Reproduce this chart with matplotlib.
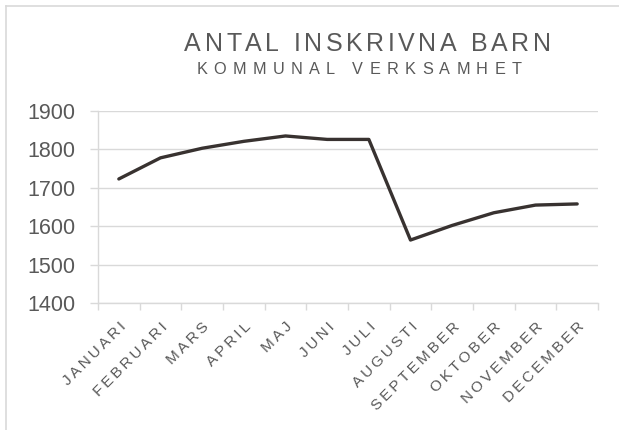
import matplotlib
matplotlib.use("Agg")
import matplotlib.pyplot as plt
from matplotlib.lines import Line2D
from matplotlib.font_manager import FontProperties
import numpy as np

manader = ['JANUARI', 'FEBRUARI', 'MARS', 'APRIL', 'MAJ', 'JUNI', 'JULI',
           'AUGUSTI', 'SEPTEMBER', 'OKTOBER', 'NOVEMBER', 'DECEMBER']
antal = [1723, 1778, 1803, 1821, 1835, 1826, 1826, 1564, 1602, 1635, 1655, 1658]
y_ticks = [1400, 1500, 1600, 1700, 1800, 1900]

titel = 'ANTAL INSKRIVNA BARN'
undertitel = 'KOMMUNAL VERKSAMHET'

grå = '#595959'
linjegrå = '#d9d9d9'

plt.rcParams['font.family'] = ['Liberation Sans', 'DejaVu Sans']

W, H = 619, 430


def spaerra(s, sp='\u2009'):
    # Excel-style letter spacing for tick labels
    return sp.join(list(s))


def spaerrad_text(fig, xc, yb, s, size, mellanrum):
    # lägger ut tecken ett och ett, xc = mitt, yb = baslinje (pixlar uppifrån)
    r = fig.canvas.get_renderer()
    fp = FontProperties(family='Liberation Sans', size=size)
    bredder = [r.get_text_width_height_descent(c, fp, ismath=False)[0] for c in s]
    total = sum(bredder) + mellanrum * (len(s) - 1)
    xpos = xc - total / 2
    for c, b in zip(s, bredder):
        fig.text(xpos / W, 1 - yb / H, c, ha='left', va='baseline',
                 fontproperties=fp, color=grå)
        xpos += b + mellanrum


fig = plt.figure(figsize=(W/100, H/100), dpi=100)
ax = fig.add_axes([98/W, 1-303/H, 500/W, 192/H])

x = np.arange(len(manader))
ax.plot(x, antal, color='#383230', lw=2.4, solid_capstyle='round', solid_joinstyle='round')

ax.set_xlim(-0.5, len(manader)-0.5)
ax.set_ylim(1400, 1900)
ax.set_yticks(y_ticks)
ax.set_yticklabels([str(v) for v in y_ticks], fontsize=15.5, color=grå)
ax.yaxis.grid(True, color=linjegrå, lw=1)
ax.set_axisbelow(True)

ax.set_xticks(x)
ax.set_xticklabels([spaerra(m) for m in manader], rotation=45, ha='right',
                   rotation_mode='anchor', fontsize=11, color=grå)
ax.set_xticks(np.arange(-0.5, len(manader)), minor=True)
ax.tick_params(axis='x', which='major', length=0, pad=12)
ax.tick_params(axis='x', which='minor', length=5, color=linjegrå, width=1)
ax.tick_params(axis='y', length=6, color=linjegrå, width=1, pad=10)

for s in ['top', 'right']:
    ax.spines[s].set_visible(False)
for s in ['left', 'bottom']:
    ax.spines[s].set_color(linjegrå)
    ax.spines[s].set_linewidth(1)

spaerrad_text(fig, 367.5, 51, titel, 18, 3.6)
spaerrad_text(fig, 359, 74.3, undertitel, 11.7, 6.3)

# diagramramen
fig.add_artist(Line2D([6/W, 6/W], [0, 1-6/H], transform=fig.transFigure,
                      color=linjegrå, lw=1.2))
fig.add_artist(Line2D([6/W, 1], [1-6/H, 1-6/H], transform=fig.transFigure,
                      color=linjegrå, lw=1.2))

fig.savefig('out.png', dpi=100)
